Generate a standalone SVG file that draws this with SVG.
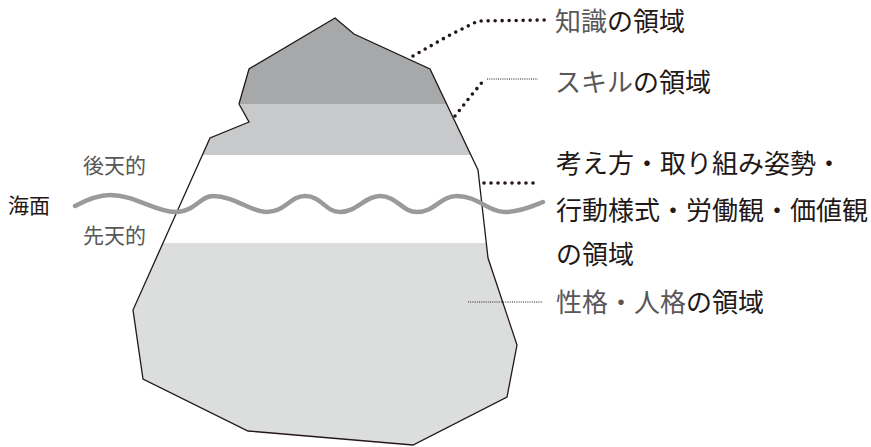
<svg xmlns="http://www.w3.org/2000/svg" width="871" height="447" viewBox="0 0 871 447">
<style>
text{font-family:"Noto Sans CJK JP","Noto Sans",sans-serif}
.big{font-size:26px}
.small{font-size:21px}
.g{fill:#595757}
.k{fill:#231815}
.dots{fill:none;stroke:#231815;stroke-width:3.6;stroke-linecap:round;stroke-dasharray:0 7}
.fine{fill:none;stroke:#231815;stroke-width:1;stroke-dasharray:1 1.2}
</style>
<defs>
<clipPath id="ice"><polygon points="335,18 354,34 430,69 478,170 488,258 517,345 507,397 413,445 248,431 143,379 133,310 210,138 249,122 239,104 249,69"/></clipPath>
</defs>
<g id="iceberg">
<g clip-path="url(#ice)">
<rect x="0" y="0" width="871" height="104" fill="#a7a8aa"/>
<rect x="0" y="104" width="871" height="51" fill="#c8c9ca"/>
<rect x="0" y="155" width="871" height="88" fill="#ffffff"/>
<rect x="0" y="243" width="871" height="210" fill="#dcdddd"/>
</g>
<polygon points="335,18 354,34 430,69 478,170 488,258 517,345 507,397 413,445 248,431 143,379 133,310 210,138 249,122 239,104 249,69" fill="none" stroke="#231815" stroke-width="1.3" stroke-linejoin="miter"/>
</g>
<g id="sea">
<path d="M75,206 C90,198 100,195 110,195 C135,195 155,212 175,212 C195,212 200,196 213,196 C235,196 250,212 267,212 C285,212 290,196 305,196 C322,196 325,212 340,212 C357,212 365,196 380,196 C397,196 402,212 417,212 C435,212 440,196 457,196 C478,196 488,212 505,212 C522,212 535,205 543,202" fill="none" stroke="#9a9a9a" stroke-width="4.5" stroke-linecap="round"/>
<text id="label-sea" class="small k" x="8" y="213">海面</text>
<text id="label-acquired" class="small g" x="83" y="173">後天的</text>
<text id="label-innate" class="small g" x="83" y="243">先天的</text>
</g>
<g id="connectors">
<path class="dots" d="M413,56 L448,36 L478,21 L545,20"/>
<path class="dots" d="M455,116 L470,97 L484,80"/>
<path class="fine" d="M487,79 L538,79"/>
<path class="dots" d="M484,183 L540,183"/>
<path class="fine" d="M468,302 L543,302"/>
</g>
<g id="node-knowledge">
<text class="big" x="555" y="31"><tspan class="g">知識</tspan><tspan class="k">の領域</tspan></text>
</g>
<g id="node-skill">
<text class="big" x="555" y="92"><tspan class="g">スキル</tspan><tspan class="k">の領域</tspan></text>
</g>
<g id="node-attitude">
<text class="big k" x="556" y="173">考え方・取り組み姿勢・</text>
<text class="big k" x="556" y="220">行動様式・労働観・価値観</text>
<text class="big k" x="556" y="264">の領域</text>
</g>
<g id="node-personality">
<text class="big" x="556" y="312"><tspan class="g">性格・人格</tspan><tspan class="k">の領域</tspan></text>
</g>
</svg>
